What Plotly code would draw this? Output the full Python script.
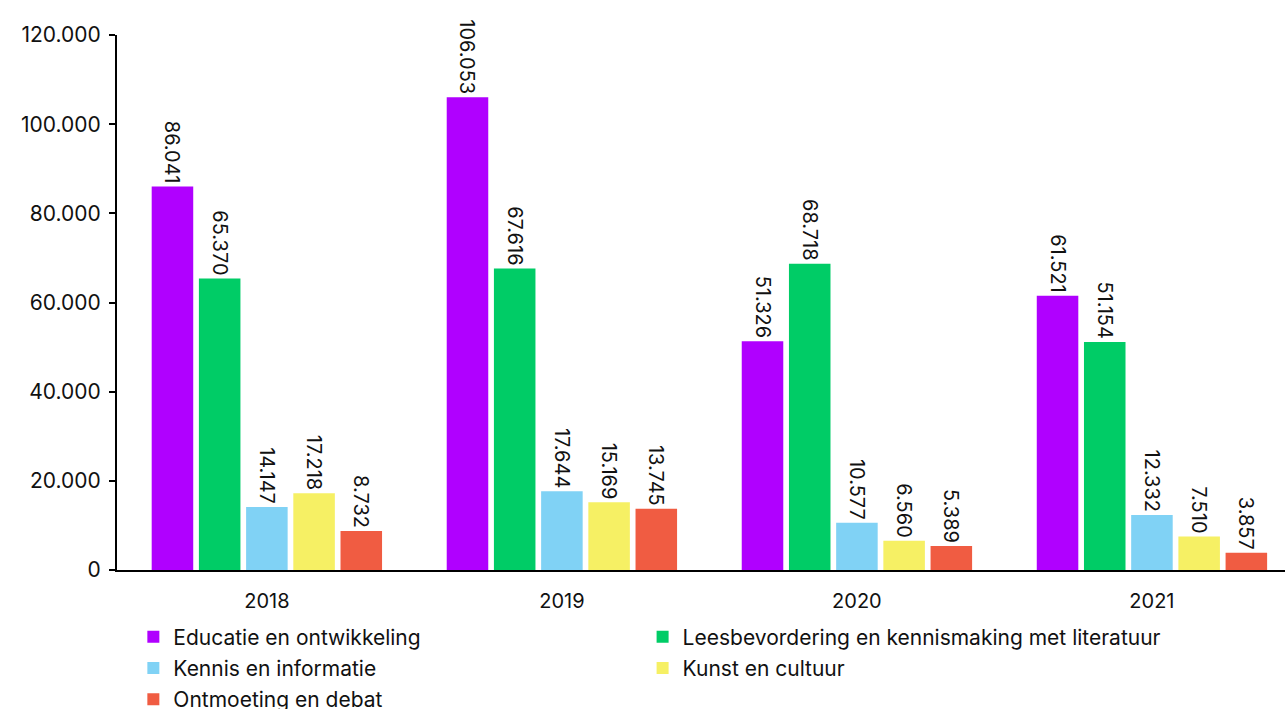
import plotly.graph_objects as go

years = ["2018", "2019", "2020", "2021"]
series_names = [
    "Educatie en ontwikkeling",
    "Leesbevordering en kennismaking met literatuur",
    "Kennis en informatie",
    "Kunst en cultuur",
    "Ontmoeting en debat",
]
educatie = [86041, 106053, 51326, 61521]
leesbevordering = [65370, 67616, 68718, 51154]
kennis = [14147, 17644, 10577, 12332]
kunst = [17218, 15169, 6560, 7510]
ontmoeting = [8732, 13745, 5389, 3857]
colors = ["#B000FF", "#00CC66", "#80D2F5", "#F6F064", "#F05C42"]
legend_ids = ["legend", "legend2", "legend", "legend2", "legend"]

values = [educatie, leesbevordering, kennis, kunst, ontmoeting]

font_family = "Inter, Liberation Sans, Arial, sans-serif"

fig = go.Figure()
for i, (name, vals, col, lg) in enumerate(zip(series_names, values, colors, legend_ids)):
    fig.add_trace(go.Bar(
        x=years, y=vals, name=name,
        marker=dict(color=col, line=dict(width=0)),
        text=vals, texttemplate="%{y:,}",
        textposition="outside", textangle=90,
        constraintext="none",
        textfont=dict(size=20, color="#111111", family=font_family),
        cliponaxis=False,
        legend=lg, legendgroup=f"g{i}",
    ))

legend_common = dict(
    orientation="v", yanchor="top", xanchor="left",
    font=dict(size=21, family=font_family, color="#111111"),
    itemsizing="constant", tracegroupgap=1, bgcolor="rgba(0,0,0,0)",
)

fig.update_layout(
    width=1285, height=709,
    margin=dict(l=117, r=0, t=35, b=139, autoexpand=False),
    plot_bgcolor="white", paper_bgcolor="white",
    separators=",.",
    barmode="group", bargap=0.2, bargroupgap=0.12,
    font=dict(family=font_family, size=20, color="#111111"),
    showlegend=True,
    legend=dict(x=0.014, y=-0.087, **legend_common),
    legend2=dict(x=0.450, y=-0.087, **legend_common),
)
fig.update_xaxes(
    range=[-0.508, 3.451],
    showline=True, linecolor="black", linewidth=2,
    ticks="", showgrid=False, zeroline=False,
    tickfont=dict(size=20),
    ticklabelstandoff=12,
)
fig.update_yaxes(
    range=[0, 120000], tickvals=[0, 20000, 40000, 60000, 80000, 100000, 120000],
    tickformat=",d",
    showline=True, linecolor="black", linewidth=2,
    ticks="outside", ticklen=6, tickwidth=2, tickcolor="black",
    showgrid=False, zeroline=False,
    tickfont=dict(size=21),
    ticklabelstandoff=4,
)

fig.write_html("out.html")
